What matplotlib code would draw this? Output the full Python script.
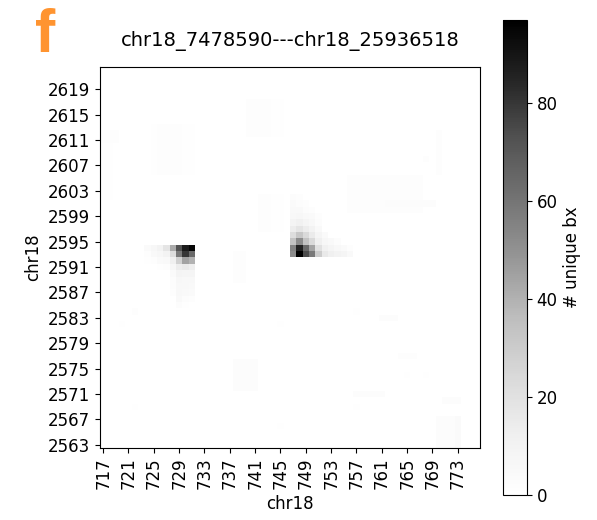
import numpy as np
import matplotlib
matplotlib.use("Agg")
import matplotlib.pyplot as plt

# ---- data ----
x_bins = list(range(717, 777))        # 60 columns
y_bins = list(range(2563, 2623))      # 60 rows
x_ticks = list(range(717, 777, 4))
y_ticks = list(range(2563, 2623, 4))

# Blob 1: columns 724..731, rows listed by y label
blob1_x0 = 724
blob1_rows = {
    2594: [4, 7, 10, 18, 42, 72, 88, 95],
    2593: [2, 5, 7, 10, 22, 58, 80, 64],
    2592: [1, 2, 4, 5, 12, 28, 45, 40],
    2591: [0, 0, 1, 2, 7, 14, 16, 13],
    2590: [0, 0, 0, 0, 4, 9, 8, 8],
    2589: [0, 0, 0, 0, 3, 7, 6, 6],
    2588: [0, 0, 0, 0, 3, 6, 6, 5],
    2587: [0, 0, 0, 0, 2, 6, 5, 4],
    2586: [0, 0, 0, 0, 0, 5, 3, 2],
    2585: [0, 0, 0, 0, 0, 3, 1, 0],
}

# Blob 2: columns 747..756
blob2_x0 = 747
blob2_rows = {
    2593: [52, 97, 74, 58, 30, 16, 12, 10, 8, 5],
    2594: [55, 86, 64, 44, 20, 11, 8, 6, 4, 2],
    2595: [34, 52, 34, 24, 12, 7, 5, 3, 0, 0],
    2596: [22, 32, 24, 15, 8, 4, 0, 0, 0, 0],
    2597: [14, 18, 14, 10, 5, 0, 0, 0, 0, 0],
    2598: [9, 11, 8, 6, 3, 0, 0, 0, 0, 0],
    2599: [6, 7, 5, 4, 2, 0, 0, 0, 0, 0],
    2600: [5, 5, 3, 2, 0, 0, 0, 0, 0, 0],
    2601: [4, 3, 2, 0, 0, 0, 0, 0, 0, 0],
    2602: [3, 2, 0, 0, 0, 0, 0, 0, 0, 0],
}

# Faint patches: (x_from, x_to, y_from, y_to, value), inclusive labels
faint_patches = [
    (740, 743, 2612, 2617, 2), (744, 745, 2612, 2617, 1),
    (726, 729, 2606, 2613, 2), (725, 725, 2606, 2613, 1), (730, 731, 2606, 2613, 1),
    (717, 719, 2611, 2612, 2),
    (717, 718, 2602, 2610, 1),
    (756, 767, 2600, 2605, 2), (762, 769, 2601, 2601, 3),
    (770, 770, 2606, 2612, 2), (768, 768, 2608, 2608, 2),
    (738, 739, 2589, 2593, 2),
    (742, 743, 2597, 2602, 2), (744, 745, 2597, 2602, 1),
    (722, 722, 2584, 2584, 2),
    (720, 720, 2582, 2582, 1),
    (745, 745, 2582, 2582, 1),
    (757, 757, 2584, 2584, 1), (761, 763, 2583, 2583, 3),
    (764, 766, 2577, 2577, 2),
    (765, 765, 2574, 2574, 1), (768, 768, 2574, 2574, 1),
    (738, 741, 2572, 2576, 3),
    (757, 761, 2571, 2571, 3), (757, 757, 2569, 2569, 1),
    (771, 773, 2570, 2570, 3),
    (770, 772, 2563, 2567, 3), (773, 773, 2563, 2567, 4),
    (722, 722, 2569, 2569, 1),
    (745, 745, 2566, 2566, 1),
]

# ---- build matrix ----
Z = np.zeros((len(y_bins), len(x_bins)))
xi = {v: i for i, v in enumerate(x_bins)}
yi = {v: i for i, v in enumerate(y_bins)}
for (x0, x1, y0, y1, v) in faint_patches:
    for yy in range(y0, y1 + 1):
        for xx in range(x0, x1 + 1):
            Z[yi[yy], xi[xx]] = v
for x0, rows in ((blob1_x0, blob1_rows), (blob2_x0, blob2_rows)):
    for yy, vals in rows.items():
        for k, v in enumerate(vals):
            if v > 0:
                Z[yi[yy], xi[x0 + k]] = v

# ---- plot ----
fig = plt.figure(figsize=(5.97, 5.20), dpi=100)
ax = fig.add_axes([0.1675, 0.1385, 0.6365, 0.7327])
cax = fig.add_axes([0.8425, 0.048, 0.040, 0.9135])

xe = np.arange(len(x_bins) + 1) + x_bins[0] - 0.5
ye = np.arange(len(y_bins) + 1) + y_bins[0] - 0.5
mesh = ax.pcolormesh(xe, ye, Z, cmap="Greys", vmin=0, vmax=Z.max())
ax.set_xlim(xe[0], xe[-1])
ax.set_ylim(ye[0], ye[-1])

ax.set_xticks(x_ticks)
ax.set_xticklabels([str(t) for t in x_ticks], rotation=90, fontsize=12)
ax.set_yticks(y_ticks)
ax.set_yticklabels([str(t) for t in y_ticks], fontsize=12)
ax.set_xlabel("chr18", fontsize=12)
ax.set_ylabel("chr18", fontsize=12)
ax.set_title("chr18_7478590---chr18_25936518", fontsize=14, pad=15)

cb = fig.colorbar(mesh, cax=cax)
cb.set_ticks([0, 20, 40, 60, 80])
cb.ax.tick_params(labelsize=12)
cb.set_label("# unique bx", fontsize=12)

fig.text(0.0754, 1 - 52 / 520, "f", fontsize=44, fontweight="bold", color="#FF9430",
         family="Liberation Sans", ha="center", va="baseline")

fig.savefig("out.png", dpi=100)
